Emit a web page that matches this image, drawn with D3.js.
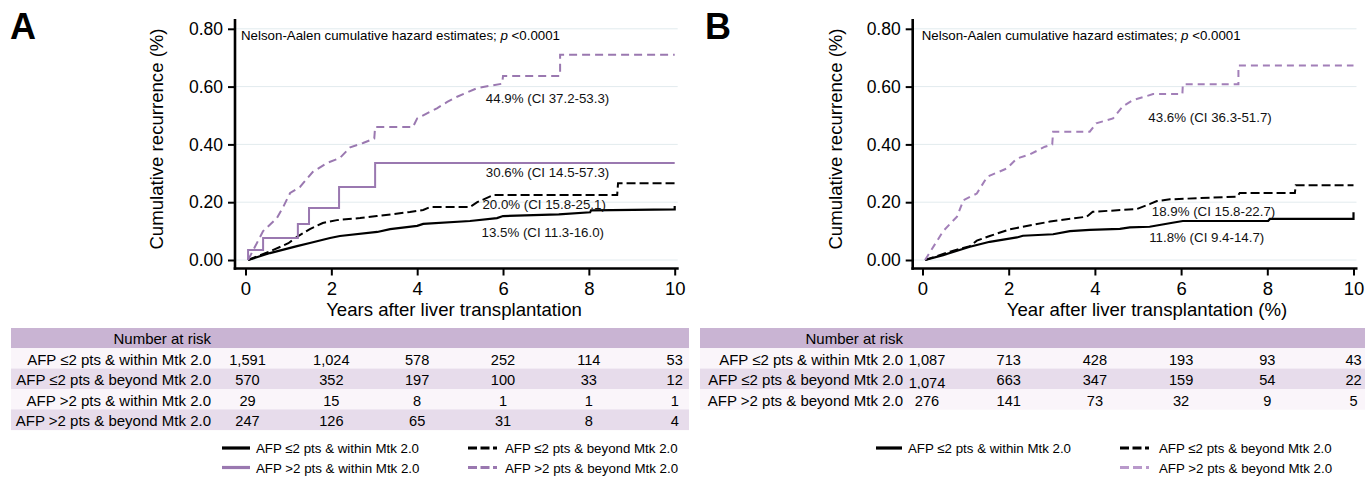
<!DOCTYPE html>
<html>
<head>
<meta charset="utf-8">
<script src="https://cdn.jsdelivr.net/npm/d3@7"></script>
<style>
  body { margin: 0; background: #fff; }
  svg { display: block; }
</style>
</head>
<body>
<script>
// ---------------- DATA ----------------
const yearTicks = [0, 2, 4, 6, 8, 10];
const hazardTicks = [0, 0.2, 0.4, 0.6, 0.8];

const seriesNames = [
  "AFP ≤2 pts & within Mtk 2.0",
  "AFP ≤2 pts & beyond Mtk 2.0",
  "AFP >2 pts & within Mtk 2.0",
  "AFP >2 pts & beyond Mtk 2.0"
];

// Panel A curves: [years, cumulative hazard]
const aLowWithin = [[0.06,0],[0.57,0.024],[1.2,0.048],[1.5,0.059],[1.97,0.076],[2.2,0.083],[3.07,0.097],[3.37,0.107],[4.0,0.118],[4.14,0.125],[5.23,0.135],[5.86,0.145],[6.0,0.152],[7.3,0.158],[8.03,0.165],[8.05,0.172],[10,0.175],[10,0.187]];
const aLowBeyond = [[0.06,0],[0.57,0.03],[1.0,0.058],[1.2,0.08],[1.5,0.107],[1.8,0.128],[2.13,0.138],[2.67,0.145],[3.06,0.152],[3.83,0.166],[4.14,0.173],[4.3,0.183],[5.23,0.183],[5.4,0.2],[5.55,0.21],[5.78,0.225],[8.66,0.225],[8.68,0.266],[10,0.266]];
const aHighWithin = [[0.06,0],[0.06,0.035],[0.41,0.076],[1.22,0.125],[1.48,0.18],[2.18,0.253],[3.02,0.336],[10,0.336]];
const aHighBeyond = [[0.06,0],[0.41,0.1],[0.73,0.145],[0.88,0.184],[1.04,0.232],[1.27,0.253],[1.57,0.305],[1.9,0.336],[2.2,0.353],[2.44,0.39],[2.74,0.405],[3.0,0.42],[3.02,0.46],[3.9,0.46],[4.0,0.49],[4.46,0.525],[4.7,0.547],[4.93,0.565],[5.4,0.595],[5.98,0.61],[6.0,0.637],[7.33,0.637],[7.33,0.71],[10,0.71]];

// Panel B curves
const bLowWithin = [[0.06,0],[0.48,0.017],[1.1,0.046],[1.56,0.063],[2.19,0.078],[2.33,0.084],[3.03,0.089],[3.42,0.1],[3.88,0.104],[4.58,0.108],[4.81,0.113],[5.27,0.115],[5.8,0.129],[6.04,0.135],[8.02,0.135],[8.06,0.142],[10,0.142],[10,0.165]];
const bLowBeyond = [[0.06,0],[0.64,0.029],[1.1,0.048],[1.26,0.067],[1.56,0.083],[2.02,0.106],[2.33,0.115],[2.96,0.133],[3.81,0.15],[3.95,0.167],[4.97,0.176],[5.28,0.194],[5.44,0.204],[5.74,0.21],[7.3,0.219],[7.36,0.232],[8.64,0.232],[8.66,0.259],[10,0.259]];
const bHighBeyond = [[0.06,0],[0.48,0.1],[0.8,0.15],[0.95,0.207],[1.26,0.23],[1.5,0.288],[1.96,0.317],[2.19,0.351],[2.5,0.366],[2.84,0.392],[3.01,0.4],[3.03,0.444],[3.88,0.444],[4.03,0.473],[4.42,0.49],[4.65,0.532],[4.88,0.553],[5.35,0.574],[6.03,0.574],[6.04,0.608],[7.33,0.608],[7.33,0.673],[10,0.673]];

const estimatesA = ["44.9% (CI 37.2-53.3)", "30.6% (CI 14.5-57.3)", "20.0% (CI 15.8-25.1)", "13.5% (CI 11.3-16.0)"];
const estimatesB = ["43.6% (CI 36.3-51.7)", "18.9% (CI 15.8-22.7)", "11.8% (CI 9.4-14.7)"];

const riskRowsA = [seriesNames[0], seriesNames[1], seriesNames[2], seriesNames[3]];
const riskA = [
  ["1,591","1,024","578","252","114","53"],
  ["570","352","197","100","33","12"],
  ["29","15","8","1","1","1"],
  ["247","126","65","31","8","4"]
];
const riskRowsB = [seriesNames[0], seriesNames[1], seriesNames[3]];
const riskB = [
  ["1,087","713","428","193","93","43"],
  ["1,074","663","347","159","54","22"],
  ["276","141","73","32","9","5"]
];

// ---------------- STYLE ----------------
const PURPLE = "#9a78b0";
const styles = [
  { color: "#000", dash: null, width: 2.2 },
  { color: "#000", dash: "9,4", width: 2 },
  { color: PURPLE, dash: null, width: 2 },
  { color: PURPLE, dash: "8,5", width: 2 }
];
const FONT = '"Liberation Sans", Arial, Helvetica, sans-serif';

const svg = d3.select("body").append("svg")
  .attr("width", 1365).attr("height", 477)
  .style("font-family", FONT);

function drawPanel(p) {
  const x = d3.scaleLinear().domain([0, 10]).range([p.x0, p.x1]);
  const y = d3.scaleLinear().domain([0, 0.8]).range([260, 28.8]);
  const g = svg.append("g");

  // panel letter
  g.append("text").attr("x", p.letterX).attr("y", 39)
    .attr("font-size", 36).attr("font-weight", "bold").text(p.letter);

  // gridlines
  g.selectAll("line.grid").data(hazardTicks).enter().append("line")
    .attr("x1", p.axisX + 1).attr("x2", x(10) + 3)
    .attr("y1", d => y(d)).attr("y2", d => y(d))
    .attr("stroke", "#e2ebee").attr("stroke-width", 1);

  // y axis
  const ya = g.append("g").attr("transform", `translate(${p.axisX},0)`)
    .call(d3.axisLeft(y).tickValues(hazardTicks).tickFormat(d3.format(".2f"))
      .tickSize(7).tickSizeOuter(0).tickPadding(5));
  ya.select(".domain").remove();
  ya.selectAll(".tick line").attr("stroke", "#000").attr("stroke-width", 2);
  ya.selectAll(".tick text").attr("font-size", 17.5).attr("font-family", FONT).attr("fill", "#000");

  // x axis
  const xa = g.append("g").attr("transform", `translate(0,268.5)`)
    .call(d3.axisBottom(x).tickValues(yearTicks).tickFormat(d3.format("d"))
      .tickSize(7).tickSizeOuter(0).tickPadding(6));
  xa.select(".domain").remove();
  xa.selectAll(".tick line").attr("stroke", "#000").attr("stroke-width", 2);
  xa.selectAll(".tick text").attr("font-size", 18.5).attr("font-family", FONT).attr("fill", "#000");

  // axis lines
  g.append("line").attr("x1", p.axisX).attr("x2", p.axisX).attr("y1", 19).attr("y2", 269.8)
    .attr("stroke", "#000").attr("stroke-width", 2.6);
  g.append("line").attr("x1", p.axisX - 1.3).attr("x2", x(10) + 4).attr("y1", 268.5).attr("y2", 268.5)
    .attr("stroke", "#000").attr("stroke-width", 2.6);

  // axis titles
  g.append("text").attr("transform", `translate(${p.yTitleX},139) rotate(-90)`)
    .attr("text-anchor", "middle").attr("font-size", 18.6).text("Cumulative recurrence (%)");
  g.append("text").attr("x", p.xTitleX).attr("y", 316)
    .attr("text-anchor", "middle").attr("font-size", 18.6).text(p.xTitle);

  // note
  const note = g.append("text").attr("x", p.axisX + p.noteDx).attr("y", 40).attr("font-size", 13.3);
  note.append("tspan").text("Nelson-Aalen cumulative hazard estimates; ");
  note.append("tspan").attr("font-style", "italic").text("p");
  note.append("tspan").text(" <0.0001");

  // curves
  p.curves.forEach(c => {
    const st = styles[c.style];
    const line = d3.line().x(d => x(d[0])).y(d => y(d[1]))
      .curve(c.step ? d3.curveStepAfter : d3.curveLinear);
    g.append("path").datum(c.data).attr("d", line)
      .attr("fill", "none").attr("stroke", c.color || st.color)
      .attr("stroke-width", st.width)
      .attr("stroke-dasharray", c.dash || st.dash)
      .attr("stroke-linejoin", "miter");
  });

  // estimate labels
  p.estimates.forEach((t, i) => {
    const pos = p.estimatePos[i];
    g.append("text").attr("x", x(pos[0])).attr("y", y(pos[1]))
      .attr("font-size", 13.3).attr("fill", "#111").text(t);
  });

  // risk table
  const rowH = 20.4;
  const top = 328;
  g.append("rect").attr("x", p.tableX0).attr("y", top).attr("width", p.tableX1 - p.tableX0).attr("height", 20.2)
    .attr("fill", "#c9b4d3");
  g.append("text").attr("x", p.labelRight).attr("y", 344).attr("text-anchor", "end")
    .attr("font-size", 15).text("Number at risk");
  p.riskRows.forEach((lab, i) => {
    const ry = top + 20.2 + i * rowH;
    g.append("rect").attr("x", p.tableX0).attr("y", ry).attr("width", p.tableX1 - p.tableX0).attr("height", rowH + 0.3)
      .attr("fill", i % 2 === 0 ? "#faf5fa" : "#e7dceb");
    g.append("text").attr("x", p.labelRight).attr("y", ry + 16.8).attr("text-anchor", "end")
      .attr("font-size", 15).text(lab);
    p.risk[i].forEach((v, j) => {
      const dx = j === 0 ? p.firstColDx : 0;
      g.append("text").attr("x", x(yearTicks[j]) + dx).attr("y", ry + 16.8 + (p.riskDy && p.riskDy[i] ? p.riskDy[i][j] : 0))
        .attr("text-anchor", "middle").attr("font-size", 14.6).text(v);
    });
  });

  // legend
  p.legend.forEach(l => {
    const st = styles[l.style];
    const dash = l.legendDash || (st.dash ? "9,3.5,9,3.5,4" : null);
    g.append("line").attr("x1", l.x).attr("x2", l.x + l.len).attr("y1", l.y).attr("y2", l.y)
      .attr("stroke", l.color || st.color).attr("stroke-width", 3.2)
      .attr("stroke-dasharray", dash);
    g.append("text").attr("x", l.x + l.len + 6).attr("y", l.y + 5)
      .attr("font-size", 13.3).text(seriesNames[l.style]);
  });
}

drawPanel({
  letter: "A", letterX: 10,
  x0: 245.5, x1: 674.7, axisX: 235,
  yTitleX: 163.3, xTitleX: 454, xTitle: "Years after liver transplantation",
  noteDx: 6,
  curves: [
    { data: aLowWithin, style: 0 },
    { data: aLowBeyond, style: 1 },
    { data: aHighWithin, style: 2, step: true },
    { data: aHighBeyond, style: 3 }
  ],
  estimates: estimatesA,
  estimatePos: [[5.60, 0.544], [5.60, 0.288], [5.52, 0.176], [5.50, 0.0785]],
  tableX0: 11, tableX1: 689, labelRight: 211, firstColDx: 2,
  riskRows: riskRowsA, risk: riskA,
  legend: [
    { style: 0, x: 222, y: 448, len: 28 },
    { style: 1, x: 468, y: 448, len: 31 },
    { style: 2, x: 222, y: 467.5, len: 28 },
    { style: 3, x: 468, y: 467.5, len: 31 }
  ]
});

drawPanel({
  letter: "B", letterX: 705,
  x0: 922.5, x1: 1353.5, axisX: 912.7,
  yTitleX: 841.7, xTitleX: 1147, xTitle: "Year after liver transplantation (%)",
  noteDx: 9,
  curves: [
    { data: bLowWithin, style: 0 },
    { data: bLowBeyond, style: 1 },
    { data: bHighBeyond, style: 3, color: "#a27fb8", dash: "7,5" }
  ],
  estimates: estimatesB,
  estimatePos: [[5.24, 0.477], [5.32, 0.152], [5.26, 0.062]],
  tableX0: 700, tableX1: 1365, labelRight: 903, firstColDx: 4.5,
  riskRows: riskRowsB, risk: riskB,
  riskDy: [[0,0,0,0,0,0],[2.5,0,0,0,0,0],[0,0,0,0,0,0]],
  legend: [
    { style: 0, x: 876, y: 448, len: 26 },
    { style: 1, x: 1120, y: 448, len: 33 },
    { style: 3, x: 1120, y: 467.5, len: 33, color: "#b999cb", legendDash: "9,4,9,4,3" }
  ]
});
</script>
</body>
</html>
